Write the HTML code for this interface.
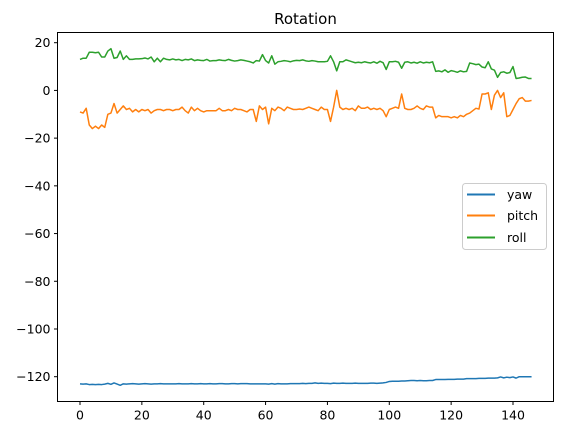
<!DOCTYPE html>
<html><head><meta charset="utf-8"><style>
body{margin:0;background:#fff}
svg text{font-family:"DejaVu Sans","Liberation Sans",sans-serif;fill:#000}
</style></head><body>
<svg id="chart" width="563" height="435" xmlns="http://www.w3.org/2000/svg">
<text x="305.5" y="24" font-size="15" text-anchor="middle">Rotation</text>
<g id="plot"></g>
<g id="axes"></g>
<g>
<rect x="462.5" y="183.5" width="84" height="66" rx="3" fill="#fff" fill-opacity="0.8" stroke="#ccc"/>
<g><line x1="467" y1="194.5" x2="495" y2="194.5" stroke="#1f77b4" stroke-width="2"/><text x="507" y="199" font-size="12.5">yaw</text></g>
<g><line x1="467" y1="215.5" x2="495" y2="215.5" stroke="#ff7f0e" stroke-width="2"/><text x="507" y="220" font-size="12.5">pitch</text></g>
<g><line x1="467" y1="237.5" x2="495" y2="237.5" stroke="#2ca02c" stroke-width="2"/><text x="507" y="242" font-size="12.5">roll</text></g>
</g>
</svg>
<script>
const xTicks=[0,20,40,60,80,100,120,140];
const yTicks=[20,0,-20,-40,-60,-80,-100,-120];
const roll=[13,13.5,13.5,16,16,15.8,16,14,14,16.5,
17.5,13.5,13.8,16.5,13,14.5,13,13,13.2,13.2,
13.3,13.6,13.2,14,12,13.5,12,13.5,13,12.8,
13.2,12.8,13,12.5,13,12.8,13.2,12.5,12.8,12.6,
12.5,13,12.3,12.5,12.5,12.8,12.6,12.5,13,12.6,
12.3,12.5,12.8,12.6,12.3,12,11.5,12.5,12.3,15,
12.5,11.5,14.5,11,12,12.2,12.5,12.3,12,12.4,
12.6,12.5,12.8,12.4,12.2,12.5,12.3,12,12,12,
12.2,14.5,12,8.2,12,12,12.8,12.4,12,11.6,
11.8,11.6,12,11.7,11.5,12,11.4,12.2,11.6,8.8,
12,12,12.2,11.8,9.3,11.8,12,11.5,11.8,11.4,
12,11.5,11.8,11.6,12,8,8.2,7.8,8.6,7.6,
8.3,8,7.6,8.2,7.8,8,11.5,11.2,10.8,11,
9.8,9.5,12,9,8.5,5.5,7.5,7.8,7.2,7.5,
10,5,5.2,5.5,5.6,5,5];
const pitch=[-9,-9.5,-7.5,-14.5,-16,-15,-16,-14.5,-15.5,-10,
-9.5,-5.5,-9.5,-8,-6.5,-8,-7.5,-9,-8,-9,
-8,-8.5,-8,-9.5,-8.5,-8,-8,-8.5,-8,-8,
-8.5,-8,-8,-7,-8.5,-9.5,-7,-8.5,-7.5,-8.5,
-9,-8.5,-8.5,-8.5,-8.5,-7.5,-8.5,-8.5,-8,-8.5,
-7.5,-8,-8,-8.5,-9,-8,-8,-13,-6.5,-8,
-7,-14,-7.5,-8.5,-7,-7.5,-8.5,-7,-7.5,-8,
-8,-7.8,-8,-7.5,-7,-7.5,-8,-8.5,-7,-8,
-8,-13,-7,0,-7,-8,-7.5,-8,-7.5,-8.5,
-6.5,-7.5,-7.5,-7,-8,-7.5,-8,-7.5,-8.5,-11,
-8,-7.5,-7,-7.5,-1.5,-7.5,-8,-8,-7.5,-6.5,
-7.5,-8,-6.5,-7,-7,-11.5,-10.5,-11,-11,-11,
-11.5,-11,-11.5,-10.5,-11,-10,-9.5,-8.5,-7.5,-7.8,
-1.5,-1.5,-1,-8,-2,0,-3,-1,-11,-10.5,
-8,-5.5,-3.5,-3,-4.5,-4.5,-4.2];
const yaw=[-123,-123.1,-123,-123.3,-123.2,-123.3,-123.2,-123.3,-123.1,-122.8,
-123.2,-122.6,-123.1,-123.6,-123,-123.1,-123,-122.9,-123,-123.1,
-123,-122.9,-123,-123.1,-123,-123,-122.9,-123,-123,-123,
-123,-123,-122.9,-123,-123,-123,-122.9,-123,-123,-122.9,
-123,-123,-122.9,-123,-123,-122.9,-122.9,-123,-123,-122.9,
-122.9,-123,-122.9,-122.9,-122.9,-123,-123,-123,-123,-123,
-123,-123.1,-122.9,-123.1,-122.9,-123,-123,-123,-122.9,-122.9,
-122.9,-122.9,-122.8,-122.9,-122.8,-122.8,-122.6,-122.8,-122.7,-122.8,
-122.8,-122.9,-122.7,-122.8,-122.8,-122.7,-122.8,-122.8,-122.8,-122.7,
-122.8,-122.8,-122.8,-122.8,-122.7,-122.7,-122.8,-122.7,-122.6,-122.4,
-122,-121.9,-121.9,-121.9,-121.8,-121.8,-121.7,-121.6,-121.6,-121.7,
-121.6,-121.7,-121.7,-121.6,-121.6,-121.2,-121.2,-121.2,-121.2,-121.1,
-121.1,-121.1,-121,-121,-121,-120.8,-120.8,-120.8,-120.8,-120.7,
-120.7,-120.7,-120.6,-120.6,-120.6,-120.5,-120.1,-120.5,-120.2,-120.4,
-120.1,-120.6,-120,-120,-120,-120,-120];
const L=57.5,R=553.5,T=32.5,B=401.5;
const xs=v=>80+v*(433/140);
const ys=v=>42.7+(20-v)*(334/140);
const NS='http://www.w3.org/2000/svg';
const plot=document.getElementById('plot'),axes=document.getElementById('axes');
function mk(tag,attrs,parent){const e=document.createElementNS(NS,tag);for(const k in attrs)e.setAttribute(k,attrs[k]);parent.appendChild(e);return e;}
const series=[[yaw,'#1f77b4','series-yaw'],[pitch,'#ff7f0e','series-pitch'],[roll,'#2ca02c','series-roll']];
series.forEach(([d,c,n])=>{
 const p=mk('polyline',{points:d.map((v,i)=>xs(i).toFixed(2)+','+ys(v).toFixed(2)).join(' '),fill:'none',stroke:c,'stroke-width':1.5,'stroke-linejoin':'round'},plot);
 
 
});
const frame=mk('rect',{x:L,y:T,width:R-L,height:B-T,fill:'none',stroke:'#000','stroke-width':1},axes);


xTicks.forEach(t=>{
 const x=xs(t);
 mk('line',{x1:x,y1:B,x2:x,y2:B+3.5,stroke:'#000'},axes);
 const tx=mk('text',{x:x,y:B+18,'font-size':12.5,'text-anchor':'middle'},axes);
 tx.textContent=t;
 
 
});
yTicks.forEach(t=>{
 const y=ys(t);
 mk('line',{x1:L,y1:y,x2:L-3.5,y2:y,stroke:'#000'},axes);
 const tx=mk('text',{x:L-7,y:y+4.5,'font-size':12.5,'text-anchor':'end'},axes);
 tx.textContent=t<0?'\u2212'+(-t):t;
 
 
});
</script>
</body></html>
